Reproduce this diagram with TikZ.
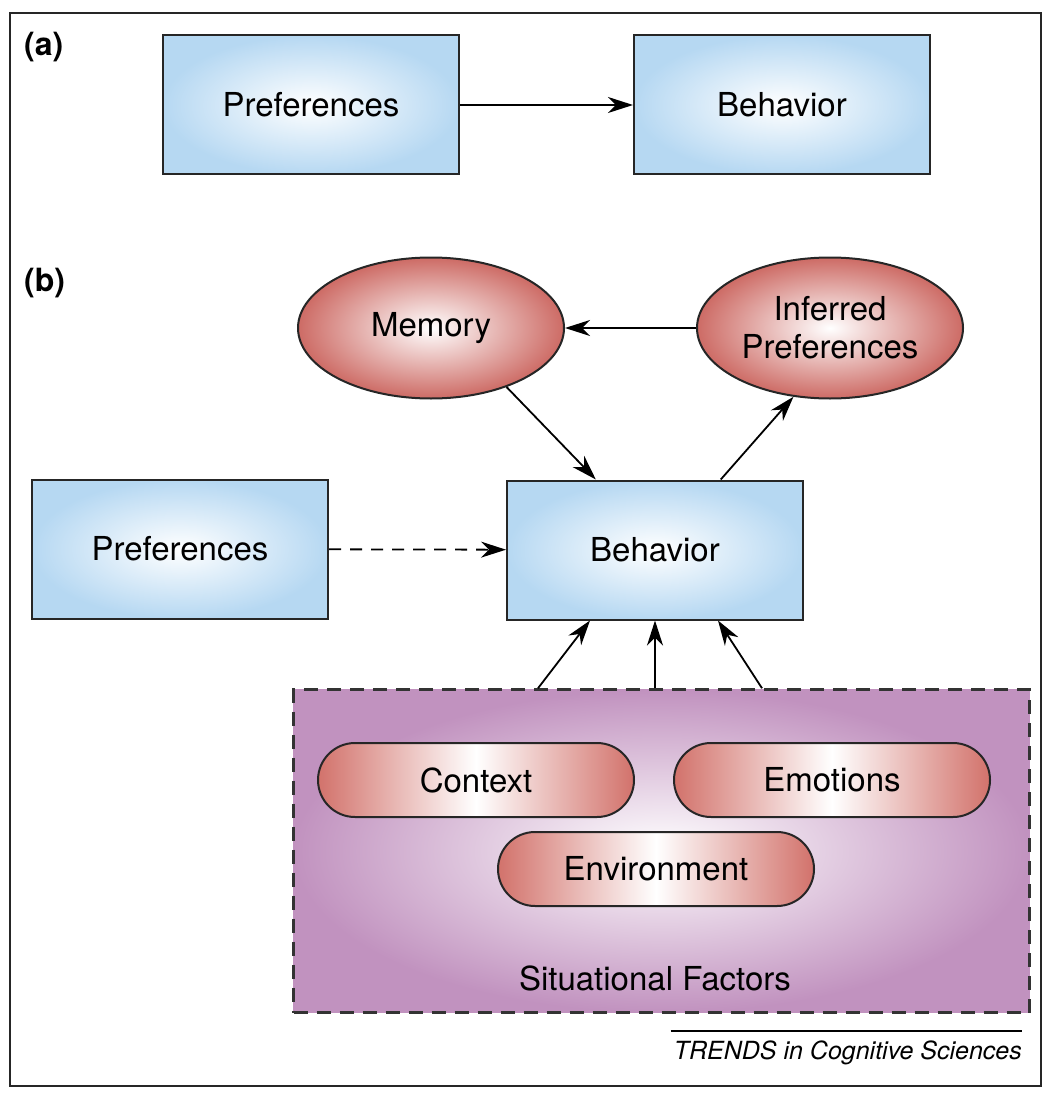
\documentclass[tikz,border=0pt]{standalone}
\usepackage{fontspec}
\setmainfont{TeX Gyre Heros}
\usetikzlibrary{arrows.meta,shapes.geometric}
\definecolor{boxblue}{HTML}{B6D8F2}
\definecolor{ellred}{HTML}{CD6B65}
\definecolor{pillred}{HTML}{D2726B}
\definecolor{sitpurple}{HTML}{C192BF}
\newcommand{\lblfont}{\fontsize{33}{38}\selectfont}
\begin{document}
\begin{tikzpicture}[x=1pt,y=-1pt,
        box/.style={draw=black!85,line width=2pt,inner color=white,outer color=boxblue,
            minimum width=296pt,minimum height=139pt,font=\lblfont},
        blob/.style={ellipse,draw=black!85,line width=2pt,inner color=white,outer color=ellred,
            minimum width=266pt,minimum height=141pt,align=center,font=\lblfont},
        pill/.style={draw=black!85,line width=2pt,rounded corners=37pt,
            left color=pillred,right color=pillred,middle color=white,
            minimum width=316pt,minimum height=74pt,font=\lblfont},
        sitbox/.style={draw=black!80,line width=2.5pt,dash pattern=on 14pt off 9pt,
            inner color=white,outer color=sitpurple,minimum width=736pt,minimum height=323pt},
        arr/.style={-{Stealth[length=25pt,width=16pt,inset=8pt]},line width=1.8pt},
        tag/.style={font=\fontsize{32}{36}\selectfont\bfseries,anchor=base west,inner sep=0pt},
        ]
    \useasboundingbox (0,0) rectangle (1051,1094);
    \draw[line width=2pt,black!85] (10,13) rectangle (1041,1086);
    % part (a)
    \node[tag] (taga) at (24,56) {(a)};
    \node[box] (aPref) at (311,105) {Preferences};
    \node[box] (aBeh) at (782,105) {Behavior};
    \draw[arr] (aPref) -- (aBeh);
    % part (b)
    \node[tag] (tagb) at (24,291) {(b)};
    \node[sitbox] (sit) at (661.5,851) {};
    \node[blob] (mem) at (431,328) {Memory};
    \node[blob] (inf) at (830,328) {Inferred\\Preferences};
    \node[box] (bPref) at (180,549) {Preferences};
    \node[box] (bBeh) at (655,550) {Behavior};
    \node[pill] (ctx) at (476,780) {Context};
    \node[pill] (emo) at (832,780) {Emotions};
    \node[pill] (env) at (656,869) {Environment};
    \node[font=\lblfont] (sitlbl) at (655,978) {Situational Factors};
    \draw[arr] (inf) -- (mem);
    \draw[arr] (mem.-38) -- (bBeh.130);
    \draw[arr] (bBeh.47) -- (inf.-118);
    \draw[arr,dash pattern=on 12pt off 9pt] (bPref) -- (bBeh);
    \draw[arr] ([xshift=-123.5pt]sit.north) -- ([xshift=-65pt]bBeh.south);
    \draw[arr] ([xshift=-6.5pt]sit.north) -- (bBeh.south);
    \draw[arr] ([xshift=100.5pt]sit.north) -- ([xshift=63pt]bBeh.south);
    % source line
    \node[font=\fontsize{25}{30}\selectfont\itshape,anchor=base east,inner sep=0pt] (src) at (1022,1059)
        {TRENDS in Cognitive Sciences};
    \draw[line width=1.2pt] ([xshift=-3pt,yshift=28pt]src.base west) -- ([yshift=28pt]src.base east);
\end{tikzpicture}
\end{document}
